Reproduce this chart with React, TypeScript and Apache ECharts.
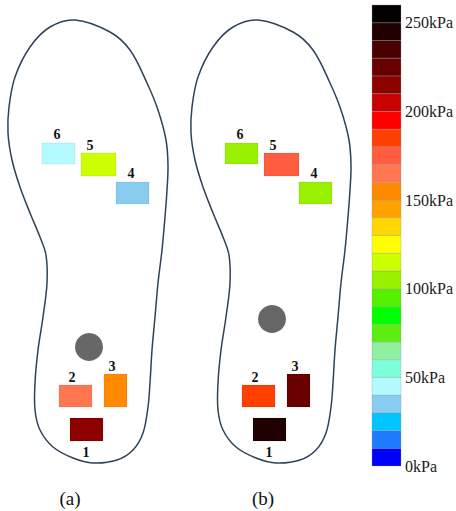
import { useEffect, useRef } from "react";
import * as echarts from "echarts";

// Plantar pressure per sensor (kPa), sensors numbered 1..6
const SENSOR_IDS = [1, 2, 3, 4, 5, 6];
const PRESSURE_A = [215, 165, 155, 35, 115, 45];
const PRESSURE_B = [245, 185, 228, 105, 175, 105];
const PANEL_LABELS = ["(a)", "(b)"];

// Colour scale: 10 kPa steps from 0 to 260 kPa
const SCALE_STEP = 10;
const SCALE_MAX = 260;
const SCALE_TICKS = [0, 50, 100, 150, 200, 250];
const LEVEL_COLORS = [
  "#0000ff", "#1e7bff", "#00c4ff", "#88ccf0", "#b4fbff", "#7dffdc",
  "#8ef0a0", "#5cee10", "#00ff00", "#55f000", "#99f000", "#ccff00",
  "#ffff00", "#ffd700", "#ffa200", "#ff8a00", "#ff7650", "#ff5c40",
  "#ff4000", "#ff0000", "#c80000", "#8c0000", "#680000", "#480000",
  "#200000", "#050000",
];

// Insole geometry in insole units (x: 0..180, y: 0..511, y grows toward the heel)
const INSOLE_OUTLINE: [number, number][] = [
  [75, 20], [110, 32], [130, 50], [147, 83], [158, 110], [166, 140], [168, 165],
  [167, 190], [165, 217], [162, 250], [158, 283], [155, 317], [152, 350], [150, 383],
  [148, 407], [143, 433], [133, 450], [117, 460], [93, 463], [73, 458], [53, 447],
  [40, 430], [35, 410], [35, 383], [38, 350], [43, 317], [47, 283], [46, 255],
  [40, 237], [30, 213], [20, 187], [12, 160], [8, 133], [9, 107], [15, 77],
  [30, 47], [50, 27],
];
const REF_DOTS: [number, number][] = [[89, 347], [89, 319]];
const DOT_RADIUS = 14;
const SENSOR_BOXES: Record<number, [number, number, number, number]> = {
  1: [70, 418, 103, 441],
  2: [59, 385, 92, 407],
  3: [104, 374, 127, 407],
  4: [116, 182, 149, 204],
  5: [81, 153, 116, 176],
  6: [42, 143, 75, 164],
};
const SENSOR_TAGS: Record<number, [number, number]> = {
  1: [86, 452], 2: [72, 377], 3: [112, 366], 4: [131, 173], 5: [90, 145], 6: [57, 134],
};

const SERIF = '"Liberation Serif", "Times New Roman", serif';

export default function App() {
  const ref = useRef<HTMLDivElement>(null);

  useEffect(() => {
    if (!ref.current) return;
    const chart = echarts.init(ref.current, undefined, { renderer: "svg" });

    const insoleAxisX = (gridIndex: number) => ({
      gridIndex, type: "value", min: 0, max: 180, show: false,
    });
    const insoleAxisY = (gridIndex: number) => ({
      gridIndex, type: "value", min: 0, max: 511, inverse: true, show: false,
    });

    const outlineSeries = (panel: number) => ({
      type: "custom",
      xAxisIndex: panel,
      yAxisIndex: panel,
      silent: true,
      data: [[0, 0]],
      renderItem: (_params: any, api: any) => {
        const pts = INSOLE_OUTLINE.map((p) => api.coord(p));
        const c = api.coord(REF_DOTS[panel]);
        const r = api.size([DOT_RADIUS, DOT_RADIUS])[0];
        return {
          type: "group",
          children: [
            {
              type: "polygon",
              shape: { points: pts, smooth: 0.35 },
              style: { fill: "none", stroke: "#2f4257", lineWidth: 1.5 },
            },
            {
              type: "circle",
              shape: { cx: c[0], cy: c[1], r },
              style: { fill: "#676767" },
            },
          ],
        };
      },
    });

    const sensorSeries = (panel: number, values: number[]) => ({
      type: "custom",
      xAxisIndex: panel,
      yAxisIndex: panel,
      data: SENSOR_IDS.map((id, i) => [id, values[i]]),
      renderItem: (_params: any, api: any) => {
        const id = api.value(0);
        const [x0, y0, x1, y1] = SENSOR_BOXES[id];
        const p0 = api.coord([x0, y0]);
        const p1 = api.coord([x1, y1]);
        const t = api.coord(SENSOR_TAGS[id]);
        return {
          type: "group",
          children: [
            {
              type: "rect",
              shape: { x: p0[0], y: p0[1], width: p1[0] - p0[0], height: p1[1] - p0[1] },
              style: { fill: api.visual("color"), stroke: "rgba(0,0,0,0.12)", lineWidth: 0.6 },
            },
            {
              type: "text",
              style: {
                text: String(id),
                x: t[0],
                y: t[1],
                align: "center",
                verticalAlign: "middle",
                fontFamily: SERIF,
                fontWeight: "bold",
                fontSize: 14,
                fill: "#111",
              },
            },
          ],
        };
      },
    });

    const scaleSeries = {
      type: "custom",
      xAxisIndex: 2,
      yAxisIndex: 2,
      data: LEVEL_COLORS.map((_, i) => [i, i * SCALE_STEP + SCALE_STEP / 2]),
      renderItem: (_params: any, api: any) => {
        const mid = api.value(1);
        const p0 = api.coord([0, mid + SCALE_STEP / 2]);
        const p1 = api.coord([1, mid - SCALE_STEP / 2]);
        return {
          type: "rect",
          shape: { x: p0[0], y: p0[1], width: p1[0] - p0[0], height: p1[1] - p0[1] },
          style: { fill: api.visual("color"), stroke: "rgba(150,150,150,0.55)", lineWidth: 0.6 },
        };
      },
    };

    chart.setOption({
      animation: false,
      backgroundColor: "#ffffff",
      grid: [
        { left: 0, top: 0, width: 180, height: 511 },
        { left: 183, top: 0, width: 180, height: 511 },
        { left: 372, top: 5, width: 31, height: 461 },
      ],
      xAxis: [
        insoleAxisX(0),
        insoleAxisX(1),
        { gridIndex: 2, type: "value", min: 0, max: 1, show: false },
      ],
      yAxis: [
        insoleAxisY(0),
        insoleAxisY(1),
        {
          gridIndex: 2,
          type: "value",
          position: "right",
          min: 0,
          max: SCALE_MAX,
          interval: 50,
          axisLine: { show: false },
          axisTick: { show: false },
          splitLine: { show: false },
          axisLabel: {
            margin: 4,
            fontSize: 16,
            fontFamily: SERIF,
            color: "#1a1a1a",
            formatter: (v: number) => (SCALE_TICKS.includes(v) ? `${v}kPa` : ""),
          },
        },
      ],
      visualMap: {
        type: "piecewise",
        show: false,
        dimension: 1,
        seriesIndex: [2, 3, 4],
        pieces: LEVEL_COLORS.map((color, i) => ({
          gte: i * SCALE_STEP,
          lt: (i + 1) * SCALE_STEP,
          color,
        })),
      },
      graphic: PANEL_LABELS.map((label, i) => ({
        type: "text",
        x: i === 0 ? 70 : 263,
        y: 498,
        style: {
          text: label,
          align: "center",
          verticalAlign: "middle",
          fontFamily: SERIF,
          fontSize: 19,
          fill: "#111",
        },
      })),
      series: [
        outlineSeries(0),
        outlineSeries(1),
        sensorSeries(0, PRESSURE_A),
        sensorSeries(1, PRESSURE_B),
        scaleSeries,
      ],
    });

    return () => chart.dispose();
  }, []);

  return (
    <div
      ref={ref}
      style={{ position: "fixed", left: 0, top: 0, width: 456, height: 511, background: "#fff" }}
    />
  );
}
